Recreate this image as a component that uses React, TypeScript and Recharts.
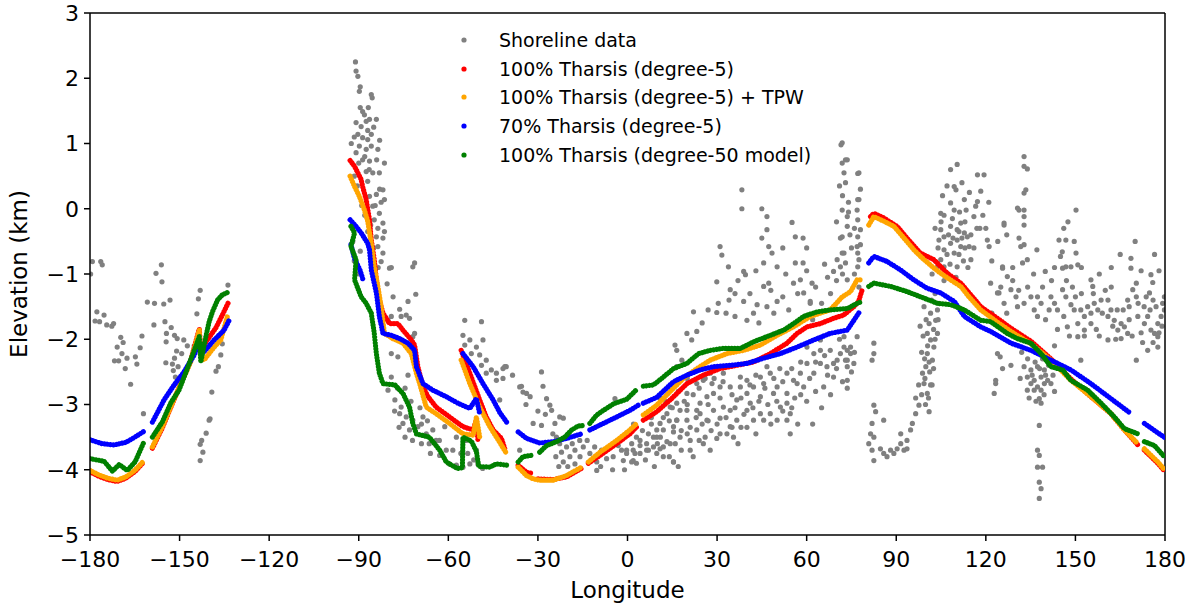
import {
  ComposedChart,
  Line,
  Scatter,
  XAxis,
  YAxis,
  Legend,
  ReferenceLine,
} from "recharts";

type Pt = [number, number] | null; // null = break in the model curve

const FONT = "DejaVu Sans";
const GRAY = "#808080";
const RED = "#ff0000";
const ORANGE = "#ffa500";
const BLUE = "#0000ff";
const GREEN = "#008000";

const xTicks = [-180, -150, -120, -90, -60, -30, 0, 30, 60, 90, 120, 150, 180];
const yTicks = [-5, -4, -3, -2, -1, 0, 1, 2, 3];

// shoreline elevations (lon, km)
const shoreWest: [number, number][] = [
  [-179.2, -0.81], [-176.4, -0.81], [-175.9, -0.86], [-179.8, -1.0], [-177.7, -1.58], [-178.3, -1.72],
  [-176.8, -1.73], [-175.3, -1.63], [-174.4, -1.78], [-172.7, -1.8], [-172.1, -1.76], [-169.7, -1.97],
  [-168.9, -2.05], [-170.9, -2.12], [-171.8, -2.33], [-170.4, -2.33], [-169.3, -2.22], [-167.6, -2.29],
  [-168.2, -2.45], [-164.8, -2.27], [-164.3, -2.38], [-163.2, -2.13], [-162.6, -1.95], [-166.4, -2.69],
  [-162.1, -3.14], [-158.6, -1.78], [-160.8, -1.43], [-158.4, -1.45], [-155.3, -1.46], [-153.2, -1.4],
  [-157.9, -0.99], [-156.1, -0.86], [-155.9, -1.12], [-154.9, -1.73], [-152.8, -1.82], [-154.4, -1.91],
  [-154.5, -2.04], [-151.7, -1.94], [-150.8, -1.99], [-148.6, -2.01], [-147.4, -2.1], [-145.1, -2.1],
  [-144.2, -1.61], [-143.7, -1.38], [-143.1, -1.25], [-154.6, -2.36], [-152.4, -2.38], [-151.7, -2.29],
  [-152.1, -2.48], [-151.4, -2.58], [-150.5, -2.42], [-149.3, -2.22], [-151.0, -2.18], [-139.2, -2.81],
  [-137.0, -2.42], [-137.8, -2.49], [-136.2, -2.24], [-135.7, -2.07], [-133.8, -1.17], [-140.1, -3.24],
  [-139.8, -3.22], [-141.1, -3.44], [-142.6, -3.55], [-143.1, -3.61], [-142.2, -3.73], [-143.1, -3.86],
];

const shoreTharsis: [number, number][] = [
  [-91.1, 2.25], [-90.9, 2.11], [-90.3, 2.03], [-89.5, 1.87], [-89.8, 1.8], [-85.8, 1.75], [-85.5, 1.7],
  [-88.7, 1.49], [-88.1, 1.44], [-90.9, 1.32], [-89.2, 1.26], [-87.5, 1.34], [-86.4, 1.37], [-84.1, 1.37],
  [-90.3, 1.14], [-88.7, 1.09], [-87.0, 1.06], [-85.8, 1.14], [-89.8, 0.96], [-87.5, 0.91], [-85.8, 0.96],
  [-90.9, 0.86], [-83.6, 0.91], [-88.7, 0.75], [-86.4, 0.73], [-81.4, 0.7], [-87.5, 0.57], [-85.3, 0.55],
  [-83.1, 0.55], [-87.0, 0.42], [-81.9, 0.29], [-84.1, 0.22], [-86.4, 0.19], [-81.4, 0.14], [-85.3, 0.04],
  [-83.1, -0.07], [-84.8, -0.17], [-81.9, -0.22], [-83.6, -0.3], [-81.4, -0.35], [-84.1, -0.43], [-81.9, -0.45],
  [-83.6, -0.58], [-81.9, -0.68], [-82.5, -0.81], [-79.7, -0.91], [-79.1, -0.9], [-71.3, -0.83], [-71.9, -0.89],
  [-70.9, -1.31], [-73.5, -1.42], [-74.1, -1.63], [-73.0, -1.68], [-76.3, -1.54], [-75.8, -1.65], [-79.1, -1.65],
  [-80.2, -1.71], [-71.9, -1.96], [-71.3, -1.91], [-79.1, -2.22], [-76.9, -2.27], [-79.1, -2.58], [-80.2, -2.78],
  [-77.9, -2.93], [-75.8, -3.04], [-76.3, -3.14], [-74.1, -3.19], [-75.2, -3.29], [-71.9, -3.24], [-73.0, -3.39],
  [-70.2, -3.34], [-68.5, -3.19], [-67.4, -3.45], [-65.2, -3.39], [-64.1, -3.55], [-66.4, -3.6], [-62.9, -3.78],
  [-60.7, -3.7], [-59.6, -3.91], [-57.3, -3.93], [-55.1, -3.96], [-52.8, -3.91], [-50.1, -3.91], [-50.6, -3.7],
  [-54.0, -3.55], [-57.3, -3.5], [-61.2, -3.34], [-92.0, -0.5], [-91.5, -0.8], [-90.5, -1.0], [-89.5, -0.65],
  [-74.5, -2.75], [-72.5, -2.95], [-69.5, -3.05],
  [-54.5, -1.71], [-48.9, -1.73], [-55.1, -1.94], [-52.8, -2.01], [-50.6, -2.12], [-48.4, -2.01], [-54.5, -2.09],
  [-52.3, -2.22], [-49.5, -2.24], [-47.3, -2.32], [-45.6, -2.47], [-48.9, -2.4], [-43.9, -2.52], [-41.7, -2.45],
  [-40.6, -2.42], [-43.9, -2.63], [-42.8, -2.93], [-47.3, -2.52], [-36.1, -2.73], [-35.0, -2.81], [-36.1, -3.7],
  [-92.5, 1.0], [-91.5, 0.5], [-90.5, 0.35], [-89.0, 0.05], [-88.0, -0.1], [-87.0, -0.35], [-86.0, -0.25],
  [-85.0, -0.6], [-84.5, 0.05], [-83.0, 0.3], [-82.5, 0.1], [-86.5, 0.6], [-88.0, 0.8], [-87.0, 1.2],
  [-85.0, 1.25], [-83.0, 1.05], [-89.5, 1.55], [-86.8, 1.55], [-91.5, 1.1], [-90.0, 0.7], [-84.0, 0.75],
  [-83.5, -0.9], [-80.5, -1.15], [-78.5, -1.35],
  [-78.0, -3.1], [-76.5, -3.35], [-74.5, -3.5], [-72.0, -3.55], [-69.0, -3.6], [-66.0, -3.75], [-63.0, -3.55],
  [-58.5, -3.7], [-55.8, -3.75], [-53.5, -3.75], [-51.5, -3.85], [-48.5, -3.98], [-69.0, -3.3], [-67.0, -3.25],
  [-77.0, -2.75], [-73.5, -2.55],
];

const shoreCentral: [number, number][] = [
  [-41.1, -2.42], [-41.7, -2.6], [-28.8, -2.5], [-35.5, -2.72], [-33.8, -2.83], [-32.6, -2.88], [-28.3, -2.72],
  [-27.1, -2.91], [-26.0, -3.01], [-25.4, -3.09], [-31.6, -3.29], [-28.8, -3.32], [-24.3, -3.29], [-22.7, -3.19],
  [-21.5, -3.21], [-23.8, -3.5], [-22.7, -3.6], [-22.1, -3.73], [-20.4, -3.65], [-19.3, -3.8], [-21.5, -3.88],
  [-17.6, -3.7], [-15.9, -3.8], [-17.6, -3.91], [-14.8, -3.65], [-12.6, -3.75], [-10.3, -3.88], [-10.3, -4.01],
  [-8.7, -3.7], [-7.0, -3.83], [-4.8, -3.8], [-4.2, -2.91], [-3.1, -3.63], [-1.4, -3.86], [-0.3, -3.75],
  [1.4, -3.6], [1.4, -3.88], [4.2, -3.63], [6.4, -3.6], [7.0, -3.45], [9.8, -3.5], [10.9, -3.68], [13.2, -3.57],
  [15.4, -3.42], [15.4, -3.88], [16.5, -3.24], [15.9, -2.09], [16.5, -2.42],
  [-25.0, -3.45], [-24.0, -3.8], [-23.0, -3.95], [-20.0, -3.95], [-18.5, -3.6], [-16.0, -3.55], [-13.5, -3.55],
  [-11.0, -3.65], [-9.0, -3.95], [-6.0, -3.65], [-5.0, -4.0], [-2.0, -3.7], [-1.0, -4.0], [2.5, -3.75],
  [-27.5, -3.15], [-30.0, -3.1], [-34.0, -3.0], [-38.5, -2.55],
  [38.3, 0.29], [38.3, 0.0], [45.0, 0.0], [46.7, -0.12], [46.7, -0.32], [47.3, -0.58], [48.4, -0.68],
  [55.1, -0.21], [56.2, -0.43], [58.8, -0.45], [71.5, 0.98], [71.9, 0.7], [73.6, 0.75], [72.5, 0.55],
  [77.1, 0.54], [71.9, -0.02], [73.6, -0.12], [71.3, -0.45], [73.6, -0.27], [71.9, -0.68], [70.2, -0.78],
  [69.0, -0.96], [77.1, 0.14], [77.1, -0.17], [77.1, -0.43], [77.1, -0.68], [77.1, -0.89], [31.0, -0.58],
  [31.6, -0.71], [33.8, -0.89], [38.9, -0.96], [39.5, -1.01], [45.6, -0.83], [50.1, -0.89], [56.2, -0.83],
  [58.8, -0.83], [29.9, -1.12], [34.4, -1.24], [38.9, -1.42], [43.4, -1.47], [45.6, -1.19], [47.3, -1.14],
  [50.1, -1.42], [55.6, -1.14], [61.8, -1.14], [61.2, -1.42], [71.3, -0.89], [22.1, -1.58], [29.9, -1.59],
  [30.4, -1.45], [40.0, -1.71], [42.2, -1.6], [46.7, -1.5],
  [19.9, -1.91], [23.2, -1.88], [21.5, -2.01], [16.5, -2.17], [18.2, -2.32], [22.1, -2.5], [23.2, -2.68],
  [15.4, -2.73], [19.9, -2.83], [16.5, -2.98], [19.9, -3.09], [24.3, -2.98], [13.2, -3.14], [10.9, -3.29],
  [15.4, -3.34], [19.9, -3.24], [23.2, -3.39], [26.6, -3.24], [17.6, -3.5], [21.0, -3.55], [25.4, -3.6],
  [14.3, -3.6], [8.7, -3.5], [6.4, -3.7], [9.8, -3.75], [12.0, -3.8], [15.4, -3.88], [1.9, -3.86], [-0.3, -3.7],
  [27.7, -3.7], [29.9, -3.52], [28.3, -2.68], [28.8, -2.83], [31.0, -2.73], [32.1, -3.04], [31.0, -3.21],
  [34.4, -3.34], [35.5, -3.5], [36.6, -3.24], [34.4, -3.09], [36.6, -2.93], [40.0, -2.83], [37.8, -2.73],
  [42.2, -2.73], [44.5, -2.88], [40.0, -2.63], [44.5, -2.58], [47.8, -2.52], [50.1, -2.73], [53.4, -2.83],
  [53.4, -2.98], [54.5, -3.14], [44.5, -3.14], [45.6, -3.24], [47.8, -3.14], [54.5, -3.45], [57.9, -2.52],
  [56.8, -2.68], [60.1, -2.37], [62.4, -2.22], [64.6, -2.37], [65.7, -2.73], [67.9, -2.17], [69.0, -2.37],
  [71.3, -2.22], [73.6, -2.32], [73.6, -2.75], [74.7, -2.12], [76.9, -1.96], [57.9, -1.09], [59.0, -1.29],
  [61.2, -1.45], [64.6, -2.01], [73.6, -2.63],
  [17.6, -3.09], [14.3, -3.04], [12.0, -3.39], [8.7, -3.65], [4.2, -3.75], [24.3, -3.14], [26.6, -2.88],
  [25.4, -2.63], [27.7, -2.52], [32.1, -2.52], [34.4, -2.73], [37.8, -2.58], [41.1, -2.98], [42.2, -3.24],
  [40.0, -3.09], [33.3, -3.45], [28.8, -3.09], [23.2, -3.09], [16.5, -3.24], [9.8, -3.39], [4.2, -3.55],
  [48.9, -2.83], [51.2, -3.04], [55.6, -2.63], [59.0, -2.73], [62.4, -2.52], [66.8, -2.42], [70.2, -2.32],
  [69.0, -2.58], [60.1, -2.12], [64.6, -2.17], [72.5, -2.12], [74.7, -2.22], [75.8, -2.37], [53.4, -2.52],
  [46.7, -2.42], [45.6, -2.68], [50.1, -3.24], [53.4, -3.24], [21.0, -3.7], [1.9, -3.7],
  [2.0, -3.3], [3.0, -3.5], [5.0, -3.4], [7.0, -3.7], [8.0, -3.3], [11.0, -3.5], [12.0, -3.2], [13.0, -2.95],
  [14.0, -3.8], [16.0, -3.6], [17.0, -2.8], [18.0, -3.4], [18.0, -3.7], [20.0, -2.6], [20.0, -3.0], [21.0, -3.35],
  [22.0, -2.85], [22.0, -3.8], [23.0, -3.2], [24.0, -2.75], [25.0, -3.3], [26.0, -2.6], [26.0, -3.5], [27.0, -3.0],
  [28.0, -3.4], [29.0, -2.6], [30.0, -3.3], [31.0, -2.9], [32.0, -2.65], [33.0, -3.2], [35.0, -2.85], [36.0, -3.05],
  [38.0, -2.9], [38.0, -3.35], [39.0, -3.15], [41.0, -2.7], [42.0, -3.05], [43.0, -2.55], [46.0, -2.75],
  [47.0, -3.0], [49.0, -2.6], [50.0, -2.95], [52.0, -2.65], [52.0, -3.1], [55.0, -2.45], [56.0, -2.9],
  [58.0, -2.35], [58.0, -2.85], [61.0, -2.6], [63.0, -2.35], [63.0, -2.8], [66.0, -2.25], [67.0, -2.55],
  [70.0, -2.45], [71.0, -2.0], [72.0, -2.65], [75.0, -2.5], [76.0, -2.2], [14.0, -3.25], [10.0, -3.6],
  [6.0, -3.85], [3.0, -3.9], [9.0, -3.95], [12.0, -3.65], [17.0, -3.95], [20.0, -3.45], [24.0, -3.55],
  [27.0, -3.25], [19.0, -2.95], [15.0, -3.05], [11.0, -2.9], [8.0, -3.2], [31.0, -3.45], [35.0, -3.35],
  [37.0, -3.6], [40.0, -3.35], [43.0, -3.45], [44.0, -2.95], [48.0, -3.3], [51.0, -2.45], [55.0, -3.05],
  [57.0, -3.3], [60.0, -2.95], [65.0, -3.05], [68.0, -2.85], [62.0, -3.3],
  [25.0, -1.75], [27.0, -1.55], [33.0, -1.6], [36.0, -1.3], [37.0, -1.1], [41.0, -1.3], [44.0, -1.75],
  [48.0, -1.25], [49.0, -1.6], [52.0, -1.35], [53.0, -1.0], [54.0, -1.55], [57.0, -1.3], [60.0, -0.95],
  [62.0, -1.7], [63.0, -1.2], [65.0, -1.45], [66.0, -0.85], [67.0, -1.05], [68.0, -1.3], [70.0, -1.1],
  [45.0, -0.45], [52.0, -0.6], [60.0, -0.6], [43.0, -0.95], [34.0, -1.4], [36.0, -1.65],
  [71.0, 0.35], [72.0, 0.2], [73.0, 0.4], [74.0, -0.05], [74.5, -0.4], [75.0, -0.6], [76.0, -0.3], [74.0, 0.1],
  [70.0, -0.2], [72.0, -1.0], [76.0, -1.0], [78.0, 0.3], [78.0, -0.55], [77.5, -1.2],
];

const shoreEast: [number, number][] = [
  [71.9, 1.01], [73.0, 0.75], [77.5, 0.55], [77.5, 0.14], [76.9, -0.02], [78.0, -0.32], [71.9, -0.43],
  [76.9, -0.58], [77.5, -0.78], [72.5, -0.68], [73.0, -0.83], [73.6, -1.09], [72.5, -1.96], [73.6, -2.17],
  [73.0, -2.32], [73.6, -2.42],
  [82.5, -2.06], [82.5, -2.22], [81.9, -2.32], [82.5, -3.01], [83.1, -3.11], [81.9, -3.29], [81.4, -3.45],
  [82.5, -3.5], [80.8, -3.6], [81.9, -3.7], [82.5, -3.86], [84.7, -3.68], [85.8, -3.75], [86.9, -3.8],
  [88.1, -3.7], [89.2, -3.75], [90.3, -3.68], [91.5, -3.6], [92.6, -3.7], [93.6, -3.68], [91.5, -3.45],
  [93.6, -3.55], [85.8, -3.24], [94.8, -3.39], [95.4, -3.29], [96.5, -3.14], [97.6, -3.01], [101.0, -3.11],
  [100.4, -2.83], [99.3, -2.68], [98.8, -2.52], [99.9, -2.42], [100.4, -2.22], [102.1, -2.32], [102.6, -2.12],
  [101.5, -2.01], [100.4, -1.91], [103.8, -1.91], [101.0, -1.76], [103.2, -1.71], [101.5, -1.6], [103.8, -1.55],
  [99.3, -1.5], [104.3, -1.45], [99.6, -2.6], [101.2, -2.5], [100.8, -2.9], [102.0, -2.7], [98.5, -2.2],
  [101.8, -1.4], [103.0, -1.3],
  [98.0, -1.8], [99.0, -1.95], [99.5, -2.3], [100.0, -1.7], [100.5, -2.1], [101.0, -2.35], [101.5, -2.7],
  [102.5, -1.85], [103.0, -2.0], [102.5, -2.45], [98.5, -2.85], [99.8, -3.0], [97.5, -2.7], [96.5, -2.9],
  [104.0, -1.7],
  [110.4, 0.68], [108.2, 0.6], [109.4, 0.34], [110.0, 0.29], [104.9, -0.07], [108.2, 0.09], [109.4, -0.02],
  [112.8, 0.14], [113.4, -0.02], [104.9, -0.32], [106.0, -0.43], [104.3, -0.48], [108.2, -0.27], [110.4, -0.32],
  [111.6, -0.22], [112.8, -0.37], [110.4, -0.48], [113.8, -0.43], [108.2, -0.53], [106.0, -0.63], [109.4, -0.68],
  [111.6, -0.58], [114.4, -0.58], [115.0, -0.78], [104.9, -0.78], [106.0, -0.89], [107.1, -0.99], [110.4, -0.89],
  [117.2, 0.52], [118.3, 0.27], [117.2, 0.11], [116.0, -0.12], [116.6, 0.04], [119.4, 0.52], [120.0, -0.3],
  [120.5, -0.48], [121.1, -0.58], [126.1, -0.22], [125.6, -0.89], [127.2, -1.04], [130.6, 0.01], [131.1, -0.45],
  [124.4, -1.29], [123.9, -1.71], [123.3, -2.63], [122.8, -2.83], [125.6, -2.45], [128.4, -2.4], [123.9, -2.22],
  [107.5, -0.4], [109.0, -0.45], [111.0, -0.7], [112.5, -0.8], [108.8, -0.15], [111.2, -0.05], [113.0, -0.6],
  [103.0, -0.3], [104.0, -0.6], [105.0, -0.2], [106.0, -0.1], [107.0, -0.7], [108.0, -0.85], [109.0, -1.1],
  [110.0, -1.05], [111.0, -0.35], [112.0, -0.45], [113.0, -0.2], [114.0, -0.9], [115.0, -0.4], [116.0, -0.6],
  [117.0, -0.3], [105.5, 0.2], [107.0, 0.35], [112.0, 0.4], [114.5, 0.25], [102.0, -1.0], [103.5, -0.9],
  [106.0, -1.1], [118.0, -0.3], [119.0, -0.1], [121.0, 0.1], [122.0, -0.8], [124.0, -0.5], [127.0, -0.4],
  [129.0, -0.9],
  [132.8, 0.8], [132.8, 0.65], [133.9, 0.61], [133.4, 0.29], [132.8, 0.24], [131.1, -0.02], [132.8, -0.02],
  [132.8, -0.12], [132.8, -0.25], [126.1, -0.25], [150.2, -0.02], [146.1, -0.3], [144.5, -0.48], [146.8, -0.48],
  [149.6, -0.5], [145.6, -0.66], [145.0, -0.73], [150.2, -0.68], [150.8, -0.86], [145.7, -0.91], [146.8, -0.89],
  [148.5, -0.89], [131.7, -0.58], [132.8, -0.55], [137.1, -0.63], [125.6, -0.91], [132.3, -0.83], [133.9, -0.78],
  [168.6, -0.76], [168.6, -0.91], [175.3, -1.01], [175.9, -1.13], [179.8, -1.35], [139.9, -0.96], [155.2, -1.09],
  [155.8, -1.19], [170.4, -1.14], [169.2, -1.24], [170.4, -1.35], [174.8, -1.29], [173.7, -1.35],
  [121.6, -1.14], [123.9, -1.29], [128.4, -1.24], [130.1, -1.35], [126.1, -1.45], [130.6, -1.5], [132.8, -1.45],
  [135.1, -1.35], [137.3, -1.35], [138.5, -1.45], [136.2, -1.55], [137.3, -1.65], [141.8, -1.35], [141.2, -1.55],
  [144.0, -1.55], [145.7, -1.24], [146.8, -1.35], [148.5, -1.47], [149.6, -1.55], [146.1, -1.65], [147.3, -1.81],
  [151.8, -1.55], [154.1, -1.5], [155.2, -1.6], [153.0, -1.65], [150.8, -1.76], [156.3, -1.45], [158.6, -1.4],
  [157.5, -1.55], [155.2, -1.76], [153.0, -1.86], [150.8, -1.96], [160.9, -1.4], [161.9, -1.55], [160.9, -1.65],
  [163.0, -1.71], [165.3, -1.76], [164.2, -1.86], [166.4, -1.81], [167.5, -1.91], [165.3, -1.99], [160.9, -2.01],
  [170.4, -2.32], [167.5, -1.4], [168.0, -1.5], [170.9, -1.65], [173.1, -1.76], [174.2, -1.65], [175.3, -1.86],
  [176.5, -1.91], [177.6, -1.76], [178.7, -1.65], [179.2, -1.45], [179.8, -1.55], [174.2, -2.17], [177.6, -2.12],
  [177.6, -1.96],
  [122.0, -1.6], [125.0, -1.2], [127.0, -1.6], [129.0, -1.1], [131.0, -1.25], [134.0, -1.2], [136.0, -1.0],
  [139.0, -1.2], [140.0, -1.7], [142.0, -1.1], [143.0, -1.45], [144.0, -1.85], [147.0, -1.1], [149.0, -1.2],
  [150.0, -1.35], [152.0, -1.3], [153.0, -1.95], [156.0, -1.3], [157.0, -1.85], [159.0, -1.6], [160.0, -1.25],
  [162.0, -1.2], [162.5, -1.8], [164.0, -1.55], [166.0, -1.55], [168.0, -1.7], [169.0, -1.95], [171.0, -1.45],
  [172.0, -1.9], [173.0, -1.5], [175.0, -1.55], [176.0, -1.4], [177.0, -1.5], [178.0, -1.9], [179.0, -1.8],
  [176.0, -2.05], [172.5, -2.05], [163.5, -2.0], [158.0, -1.95], [148.0, -1.95], [143.0, -2.1],
  [143.0, -0.9], [147.5, -0.2], [152.0, -0.9], [158.0, -1.0], [162.0, -0.9], [165.0, -0.7], [170.0, -0.5],
  [172.0, -0.95], [176.5, -0.7], [178.0, -0.95],
  [132.8, -2.42], [135.1, -2.47], [137.3, -2.42], [139.6, -2.47], [133.9, -2.58], [136.2, -2.63], [138.5, -2.58],
  [140.7, -2.63], [135.1, -2.68], [137.3, -2.73], [139.6, -2.68], [141.8, -2.68], [138.5, -2.78], [136.2, -2.78],
  [133.9, -2.78], [123.3, -2.68], [124.8, -2.27], [137.9, -2.91], [138.5, -2.98], [137.9, -3.32], [137.3, -3.7],
  [137.9, -3.78], [137.3, -3.96], [139.0, -3.96], [137.9, -4.19], [138.5, -4.29], [137.9, -4.44], [151.8, -2.32],
  [134.0, -2.3], [135.5, -2.55], [136.5, -2.35], [138.0, -2.45], [139.0, -2.3], [140.0, -2.55], [141.0, -2.4],
  [142.5, -2.55], [134.5, -2.9], [136.8, -2.95], [139.5, -2.85], [131.5, -2.6], [132.0, -2.2], [143.0, -2.8],
];

// model shorelines, null = gap in the plotted points
const tharsis100: Pt[] = [
  [-180, -4.03], [-177, -4.1], [-174, -4.15], [-171, -4.18], [-168, -4.13], [-165, -4.03], [-162, -3.88], null,
  [-159.1, -3.67], [-155.8, -3.36], [-153, -3.05], [-149.6, -2.68], [-146.3, -2.33], [-143.4, -1.84],
  [-142.9, -2.17], [-140.7, -2.01], [-137.9, -1.83], [-135.7, -1.63], [-133.7, -1.44], null,
  [-92.9, 0.74], [-91.4, 0.65], [-90.3, 0.55], [-89.2, 0.45], [-88.7, 0.34], [-87.5, 0.14], [-86.4, -0.17],
  [-85.8, -0.48], [-84.8, -0.78], [-84.1, -1.09], [-83.1, -1.4], [-81.9, -1.6], [-79.7, -1.76], [-76.9, -1.76],
  [-75.2, -1.86], [-72.4, -2.01], [-71.3, -2.09], [-70.2, -2.42], [-68.5, -2.73], [-66.8, -2.88], [-64.1, -3.04],
  [-59.6, -3.19], [-55.1, -3.34], [-51.7, -3.39], [-50.6, -3.24], [-50.1, -3.55], null,
  [-55.7, -2.17], [-52.8, -2.52], [-49.5, -2.93], [-47.3, -3.19], [-45, -3.39], [-42.2, -3.52], [-41.1, -3.68], null,
  [-36.6, -3.93], [-33.8, -4.04], [-31.6, -4.06], null,
  [-29.9, -4.14], [-24.9, -4.15], [-20.4, -4.11], [-15.4, -3.98], null,
  [-13.1, -3.9], [-9.2, -3.78], [-3.6, -3.6], [0.8, -3.45], [3.1, -3.34], null,
  [5.3, -3.24], [9.8, -3.11], [14.3, -2.93], [19.9, -2.68], [25.4, -2.55], [31, -2.45], [36.6, -2.4],
  [42.2, -2.35], [47.8, -2.22], [53.4, -2.06], [56.8, -1.91], [60.1, -1.81], [64.6, -1.76], [69, -1.68],
  [72.4, -1.63], [75.8, -1.5], [77.4, -1.42], [78.6, -1.24], null,
  [81.4, -0.12], [82.5, -0.07], [85.8, -0.14], [90.3, -0.27], [93.6, -0.45], [98.1, -0.68], [102.6, -0.78],
  [107.1, -0.99], [111.6, -1.14], [114.4, -1.29], [118.3, -1.5], [123.9, -1.68], [128.4, -1.83], [135.1, -2.03],
  [141.8, -2.3], [148.5, -2.61], [155.2, -2.88], [161.9, -3.14], [166.4, -3.39], [170.9, -3.62], null,
  [173.1, -3.7], [177.6, -3.9], [180, -4.03],
];

const tharsis100Tpw: Pt[] = [
  [-180, -4.01], [-177, -4.08], [-174, -4.13], [-170.9, -4.16], [-168, -4.11], [-165, -4.01], [-161.9, -3.86], null,
  [-159.1, -3.65], [-155.8, -3.34], [-153, -3.04], [-149.6, -2.68], [-146.3, -2.35], [-143.4, -1.86],
  [-142.9, -2.27], [-141.8, -2.32], [-138.4, -2.12], [-136.2, -2.01], [-134, -1.65], null,
  [-92.9, 0.5], [-91.4, 0.34], [-89.8, 0.19], [-88.1, -0.02], [-87, -0.19], [-85.8, -0.53], [-84.8, -0.89],
  [-83.6, -1.19], [-82.5, -1.5], [-81.4, -1.91], [-78.6, -1.99], [-75.2, -2.06], [-72.4, -2.22], [-70.7, -2.52],
  [-69.6, -2.68], [-67.4, -3.04], [-64.1, -3.14], [-59.6, -3.29], [-55.1, -3.45], [-51.7, -3.47], [-50.6, -3.19],
  [-49.5, -3.5], null,
  [-55.7, -2.32], [-52.8, -2.68], [-49.5, -3.04], [-46.1, -3.34], [-42.8, -3.58], [-40.8, -3.73], null,
  [-36.6, -3.96], [-33.8, -4.09], [-31.6, -4.14], [-29.4, -4.16], [-24.9, -4.16], [-20.4, -4.09], [-15.4, -3.96], null,
  [-13.1, -3.88], [-9.2, -3.73], [-3.6, -3.55], [0.8, -3.39], [3.1, -3.29], null,
  [5.3, -3.16], [9.8, -3.01], [14.3, -2.8], [18.7, -2.6], [23.2, -2.45], [27.7, -2.32], [33.3, -2.22],
  [38.9, -2.17], [44.5, -2.09], [50.1, -1.94], [55.6, -1.81], [61.2, -1.65], [67.9, -1.55], [71.9, -1.35],
  [74.7, -1.27], [76.9, -1.09], [78, -1.09], null,
  [80.8, -0.25], [82.5, -0.12], [85.8, -0.19], [89.2, -0.27], [92.6, -0.45], [95.9, -0.63], [99.3, -0.78],
  [102.1, -0.89], [104.9, -0.99], [108.2, -1.09], [111.6, -1.19], [113.8, -1.32], [118.3, -1.55], [123.9, -1.74],
  [128.4, -1.88], [135.1, -2.07], [141.8, -2.32], [148.5, -2.63], [155.2, -2.88], [161.9, -3.14], [166.4, -3.39],
  [170.9, -3.6], null,
  [173.1, -3.68], [177.6, -3.88], [180, -4.01],
];

const tharsis70: Pt[] = [
  [-180, -3.54], [-176, -3.6], [-171.9, -3.62], [-168, -3.58], [-165, -3.5], [-161.9, -3.41], null,
  [-159.1, -3.27], [-155.2, -2.93], [-151.8, -2.7], [-148.5, -2.5], [-145.1, -2.24], [-143.4, -2.06],
  [-141.8, -2.19], [-138.4, -2.01], [-135.1, -1.86], [-133.4, -1.71], null,
  [-92.9, -0.17], [-90.9, -0.27], [-89.2, -0.37], [-87, -0.53], [-86.4, -0.63], [-85.8, -0.94], [-84.1, -1.29],
  [-83.1, -1.65], [-81.9, -1.91], [-79.1, -1.94], [-76.3, -1.99], [-73.5, -2.06], [-71.3, -2.17], [-70.7, -2.42],
  [-68.5, -2.68], [-65.2, -2.78], [-60.7, -2.88], [-56.8, -2.98], [-52.8, -3.06], [-50.6, -2.91], [-49.5, -3.14], null,
  [-92.6, -0.55], [-91.5, -0.75], [-89.5, -0.95], [-88.5, -1.1], null,
  [-55.1, -2.22], [-51.7, -2.42], [-48.4, -2.68], [-45, -2.93], [-42.8, -3.12], [-40.5, -3.27], null,
  [-36.6, -3.42], [-33.8, -3.52], [-29.4, -3.59], [-24.9, -3.57], [-20.4, -3.52], [-15.4, -3.45], null,
  [-12.6, -3.39], [-8.1, -3.29], [-3.6, -3.19], [0.8, -3.09], [3.6, -3.01], null,
  [5.3, -2.98], [9.8, -2.89], [15.4, -2.65], [19.9, -2.55], [24.3, -2.47], [28.8, -2.42], [34.4, -2.4],
  [40, -2.37], [45.6, -2.29], [51.2, -2.22], [56.8, -2.12], [62.4, -2.01], [67.9, -1.91], [73.6, -1.86],
  [75.8, -1.71], [78, -1.56], null,
  [80.8, -0.83], [82.5, -0.73], [87, -0.81], [91.5, -0.94], [95.9, -1.09], [100.4, -1.22], [104.9, -1.29],
  [109.4, -1.42], [112.8, -1.65], [118.3, -1.81], [121.6, -1.88], [128.4, -2.06], [135.1, -2.17], [141.8, -2.32],
  [148.5, -2.47], [155.2, -2.68], [161.9, -2.91], [168.6, -3.14], null,
  [173.1, -3.29], [180, -3.51],
];

const tharsisDeg50: Pt[] = [
  [-180, -3.83], [-175.3, -3.87], [-172.5, -4.02], [-170.2, -3.92], [-167.5, -4.01], [-164.9, -3.88],
  [-161.9, -3.57], null,
  [-159.1, -3.5], [-155.8, -3.27], [-153, -2.98], [-150.2, -2.78], [-147.4, -2.45], [-145.1, -2.17],
  [-143.4, -1.96], [-142.9, -2.35], [-141.2, -1.96], [-140.1, -1.73], [-139, -1.58], [-137.3, -1.4],
  [-135.7, -1.32], [-133.4, -1.27], null,
  [-92.6, -0.27], [-91.4, -0.37], [-92.6, -0.58], [-90.9, -0.78], [-91.4, -1.09], [-89.2, -1.35], [-87.5, -1.45],
  [-85.8, -1.6], [-84.8, -1.91], [-84.1, -2.22], [-83.1, -2.52], [-81.9, -2.68], [-77.9, -2.7], [-75.2, -2.83],
  [-73, -3.04], [-71.9, -3.29], [-70.7, -3.45], [-66.4, -3.5], [-62.9, -3.7], [-60.7, -3.88], [-57, -3.98],
  [-55.3, -3.97], [-55.1, -3.5], [-52.3, -3.56], [-50.6, -3.72], [-49.8, -3.95], [-46.1, -3.96], [-43.9, -3.91],
  [-40.5, -3.93], null,
  [-36.6, -3.88], [-35, -3.8], [-32.2, -3.78], null,
  [-29.4, -3.73], [-27.1, -3.63], [-23.8, -3.57], [-21, -3.5], [-18.7, -3.39], [-16.5, -3.33], [-14.3, -3.32], null,
  [-12.6, -3.29], [-10.3, -3.16], [-8.1, -3.09], [-4.7, -2.99], [-0.3, -2.92], [3.1, -2.77], null,
  [5.3, -2.72], [8.7, -2.7], [12, -2.58], [15.4, -2.45], [19.9, -2.37], [23.8, -2.22], [27.7, -2.17],
  [32.1, -2.14], [37.8, -2.14], [42.2, -2.04], [46.7, -1.96], [52.3, -1.86], [55.6, -1.76], [59, -1.65],
  [63.5, -1.58], [67.9, -1.55], [73.6, -1.53], [76.9, -1.45], [78.6, -1.42], null,
  [80.8, -1.19], [82.5, -1.14], [88.1, -1.19], [93.6, -1.27], [99.3, -1.37], [103.8, -1.45], [108.2, -1.47],
  [112.8, -1.55], [118.3, -1.71], [121.6, -1.73], [127.2, -1.91], [130.5, -1.99], [135.1, -2.06], [138.5, -2.22],
  [141.8, -2.42], [145.7, -2.47], [148.5, -2.63], [154.1, -2.78], [158.6, -2.98], [163, -3.19], [166.4, -3.37],
  [170.9, -3.45], null,
  [173.1, -3.57], [176.5, -3.63], [180, -3.81],
];

const toRows = (pts: Pt[]) =>
  pts.map((p) => (p ? { x: p[0], y: p[1] } : { x: 0, y: null }));

const shoreRows = [...shoreWest, ...shoreTharsis, ...shoreCentral, ...shoreEast].map(
  ([x, y]) => ({ x, y })
);

const models = [
  { name: "100% Tharsis (degree-5)", color: RED, rows: toRows(tharsis100) },
  { name: "100% Tharsis (degree-5) + TPW", color: ORANGE, rows: toRows(tharsis100Tpw) },
  { name: "70% Tharsis (degree-5)", color: BLUE, rows: toRows(tharsis70) },
  { name: "100% Tharsis (degree-50 model)", color: GREEN, rows: toRows(tharsisDeg50) },
];

const legendItems = [{ name: "Shoreline data", color: GRAY }, ...models];

const fmt = (v: number) => (v < 0 ? `\u2212${Math.abs(v)}` : `${v}`);

const ShoreDot = (props: any) => (
  <circle cx={props.cx} cy={props.cy} r={2.6} fill={GRAY} />
);

const LegendBox = () => (
  <div
    style={{
      position: "absolute",
      left: 454,
      top: 25.5,
      fontFamily: FONT,
      fontSize: 19,
      color: "#000",
      whiteSpace: "nowrap",
    }}
  >
    {legendItems.map((it) => (
      <div
        key={it.name}
        style={{ height: 28.7, display: "flex", alignItems: "center" }}
      >
        <svg width={20} height={10} style={{ display: "block" }}>
          <circle cx={10} cy={5} r={2.6} fill={it.color} />
        </svg>
        <span style={{ marginLeft: 25 }}>{it.name}</span>
      </div>
    ))}
  </div>
);

const tickStyle = { fontSize: 22, fill: "#000", fontFamily: FONT };
const axisLine = { stroke: "#000", strokeWidth: 1.5 };

export default function App() {
  return (
    <div
      style={{
        position: "absolute",
        left: 0,
        top: 0,
        width: 1195,
        height: 606,
        background: "#fff",
        fontFamily: FONT,
      }}
    >
      <ComposedChart
        width={1195}
        height={606}
        margin={{ top: 13, right: 30, bottom: 0, left: 0 }}
      >
        <XAxis
          dataKey="x"
          type="number"
          domain={[-180, 180]}
          ticks={xTicks}
          tickFormatter={fmt}
          allowDataOverflow
          height={71}
          tickSize={6}
          tickMargin={10}
          tick={tickStyle}
          axisLine={axisLine}
          tickLine={axisLine}
          label={{
            value: "Longitude",
            position: "insideBottom",
            offset: 8,
            fontSize: 23,
            fill: "#000",
            fontFamily: FONT,
          }}
        />
        <YAxis
          dataKey="y"
          type="number"
          domain={[-5, 3]}
          ticks={yTicks}
          tickFormatter={fmt}
          allowDataOverflow
          width={90}
          tickSize={6}
          tickMargin={5}
          tick={tickStyle}
          axisLine={axisLine}
          tickLine={axisLine}
          label={{
            value: "Elevation (km)",
            angle: -90,
            position: "insideLeft",
            offset: 19,
            fontSize: 23,
            fill: "#000",
            fontFamily: FONT,
            style: { textAnchor: "middle" },
          }}
        />
        <ReferenceLine y={3} stroke="#000" strokeWidth={1.5} />
        <ReferenceLine x={180} stroke="#000" strokeWidth={1.5} />
        <Scatter
          name="Shoreline data"
          data={shoreRows}
          dataKey="y"
          shape={ShoreDot}
          isAnimationActive={false}
          zIndex={300}
        />
        {models.map((m) => (
          <Line
            key={m.name}
            name={m.name}
            data={m.rows}
            dataKey="y"
            type="linear"
            stroke={m.color}
            strokeWidth={5.2}
            strokeLinecap="round"
            strokeLinejoin="round"
            strokeDasharray="0.01 3"
            dot={false}
            activeDot={false}
            isAnimationActive={false}
          />
        ))}
        <Legend
          layout="vertical"
          align="center"
          verticalAlign="middle"
          wrapperStyle={{ left: 0, top: 0, width: "auto", height: "auto" }}
          content={() => <LegendBox />}
        />
      </ComposedChart>
    </div>
  );
}
